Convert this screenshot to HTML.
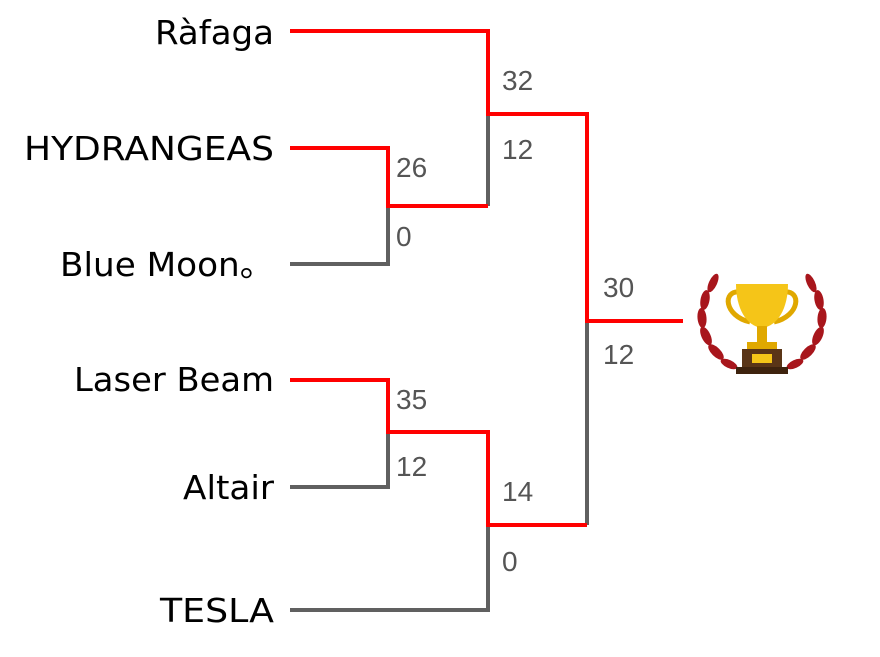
<!DOCTYPE html>
<html><head><meta charset="utf-8"><style>
body{margin:0;background:#fff;width:880px;height:657px;overflow:hidden}
svg{display:block}
.n{font-family:"DejaVu Sans","Liberation Sans",sans-serif;font-size:33px;fill:#000;text-anchor:end}
.s{font-family:"Liberation Sans",sans-serif;font-size:28px;fill:#555}
</style></head><body>
<svg width="880" height="657" viewBox="0 0 880 657">
<g fill="none" stroke-width="4">
<path d="M290 264H388V206" stroke="#606060"/>
<path d="M488 114V206" stroke="#606060"/>
<path d="M290 487H388V432" stroke="#606060"/>
<path d="M290 610H488V525" stroke="#606060"/>
<path d="M587 321V525" stroke="#606060"/>
<path d="M290 31H488V114H587V321H683" stroke="#f00"/>
<path d="M290 148H388V206H488" stroke="#f00"/>
<path d="M290 380H388V432H488V525H587" stroke="#f00"/>
</g>
<text class="n" x="274" y="44" textLength="119" lengthAdjust="spacingAndGlyphs">Ràfaga</text>
<text class="n" x="274" y="160" textLength="250" lengthAdjust="spacingAndGlyphs">HYDRANGEAS</text>
<text class="n" x="274" y="276" textLength="214" lengthAdjust="spacingAndGlyphs">Blue Moon。</text>
<text class="n" x="274" y="391" textLength="200" lengthAdjust="spacingAndGlyphs">Laser Beam</text>
<text class="n" x="274" y="499" textLength="91" lengthAdjust="spacingAndGlyphs">Altair</text>
<text class="n" x="274" y="622" textLength="114" lengthAdjust="spacingAndGlyphs">TESLA</text>
<g class="s">
<text x="502" y="90">32</text><text x="502" y="159">12</text>
<text x="396" y="177">26</text><text x="396" y="246">0</text>
<text x="603" y="297">30</text><text x="603" y="364">12</text>
<text x="396" y="409">35</text><text x="396" y="476">12</text>
<text x="502" y="501">14</text><text x="502" y="571">0</text>
</g>
<g fill="#a8161c">
<ellipse cx="713" cy="283" rx="4" ry="10" transform="rotate(25 713 283)"/>
<ellipse cx="705" cy="300" rx="4.5" ry="10" transform="rotate(10 705 300)"/>
<ellipse cx="702" cy="318" rx="4.5" ry="10" transform="rotate(-5 702 318)"/>
<ellipse cx="706" cy="336" rx="4.5" ry="10" transform="rotate(-25 706 336)"/>
<ellipse cx="716" cy="352" rx="4.5" ry="10" transform="rotate(-45 716 352)"/>
<ellipse cx="729" cy="364" rx="4" ry="9" transform="rotate(-65 729 364)"/>
<ellipse cx="811" cy="283" rx="4" ry="10" transform="rotate(-25 811 283)"/>
<ellipse cx="819" cy="300" rx="4.5" ry="10" transform="rotate(-10 819 300)"/>
<ellipse cx="822" cy="318" rx="4.5" ry="10" transform="rotate(5 822 318)"/>
<ellipse cx="818" cy="336" rx="4.5" ry="10" transform="rotate(25 818 336)"/>
<ellipse cx="808" cy="352" rx="4.5" ry="10" transform="rotate(45 808 352)"/>
<ellipse cx="795" cy="364" rx="4" ry="9" transform="rotate(65 795 364)"/>
</g>
<path d="M740 292 C722 290 724 316 750 322" fill="none" stroke="#e0a800" stroke-width="5"/>
<path d="M784 292 C802 290 800 316 774 322" fill="none" stroke="#e0a800" stroke-width="5"/>
<path d="M736 284H788C788 308 778 326 762 328C746 326 736 308 736 284Z" fill="#f5c518"/>
<rect x="757" y="326" width="10" height="18" fill="#e0a800"/>
<rect x="747" y="342" width="30" height="7" fill="#e0a800"/>
<rect x="742" y="349" width="40" height="19" fill="#5a3517"/>
<rect x="752" y="354" width="20" height="9" fill="#f5c518"/>
<rect x="736" y="367" width="52" height="7" fill="#3e230e"/>
</svg>
</body></html>
